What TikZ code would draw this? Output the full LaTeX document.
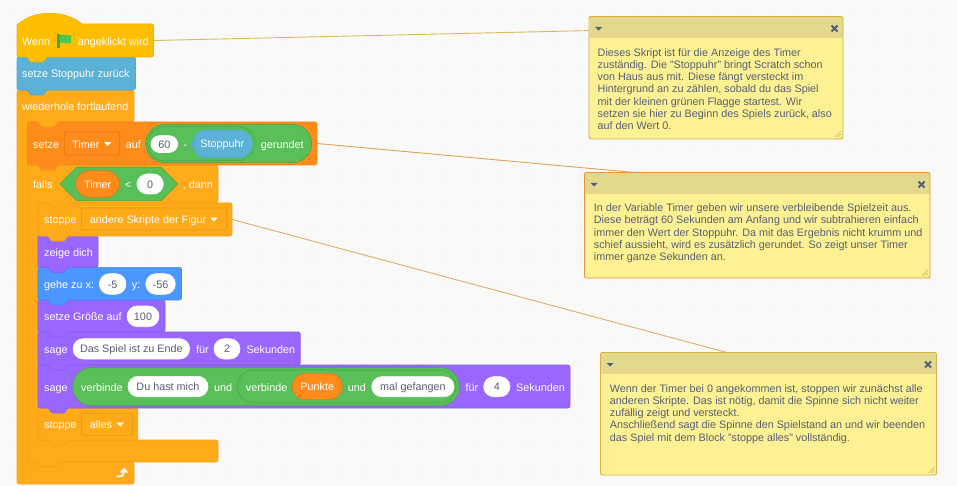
\documentclass[tikz,border=0pt]{standalone}
\usepackage{fontspec}
\setmainfont{Liberation Sans}
\pgfdeclarelayer{conn}
\pgfsetlayers{conn,main}
\definecolor{paper}{HTML}{F9F9F9}
\definecolor{griddot}{HTML}{ECECEC}
\definecolor{hatF}{HTML}{FFBF00}\definecolor{hatS}{HTML}{EFB000}
\definecolor{blueF}{HTML}{5CB1D6}\definecolor{blueS}{HTML}{4FA9D0}
\definecolor{ctrlF}{HTML}{FFAB19}\definecolor{ctrlS}{HTML}{F2A216}
\definecolor{varF}{HTML}{FF8C1A}\definecolor{varS}{HTML}{F5851A}
\definecolor{lookF}{HTML}{9966FF}\definecolor{lookS}{HTML}{8A5CE6}
\definecolor{motF}{HTML}{4C97FF}\definecolor{motS}{HTML}{4488E6}
\definecolor{opF}{HTML}{59C059}\definecolor{opS}{HTML}{46A546}
\definecolor{inkgrey}{HTML}{575E75}
\definecolor{noteF}{HTML}{FEF193}\definecolor{noteH}{HTML}{E2D98D}
\definecolor{noteA}{HTML}{D9AE35}\definecolor{noteB}{HTML}{E6953C}\definecolor{noteC}{HTML}{D9B045}
\definecolor{lineA}{HTML}{DDB95A}\definecolor{lineB}{HTML}{E6A050}\definecolor{lineC}{HTML}{E0B060}
\definecolor{gripc}{HTML}{BDB27A}
\tikzset{
  x=1pt,y=-1pt,
  blockbox/.style={rectangle,rounded corners=2pt,inner sep=0pt,line width=.6pt},
  ghostbox/.style={rectangle,inner sep=0pt},
  lbl/.style={inner sep=0pt,text=white,font=\fontsize{10.8pt}{12pt}\selectfont},
  pillnode/.style={rectangle,inner sep=0pt,line width=.6pt,text height=10pt,text depth=1.8pt,font=\fontsize{10.8pt}{12pt}\selectfont},
  notetext/.style={anchor=north west,inner sep=0pt,align=left,text=inkgrey,font=\fontsize{10.8pt}{12.2pt}\selectfont},
  connector/.style={line width=.9pt},
}
\newcommand\bBlk[7]{\node[blockbox,draw=#7,fill=#6,minimum width={(#4-#2)*1pt},minimum height={(#5-#3)*1pt}] (#1) at ({(#2+#4)/2},{(#3+#5)/2}) {};}
\newcommand\bGhost[5]{\node[ghostbox,minimum width={(#4-#2)*1pt},minimum height={(#5-#3)*1pt}] (#1) at ({(#2+#4)/2},{(#3+#5)/2}) {};}
\newcommand\bBump[4]{%
  \fill[#3] (#1,{#2-1}) -- (#1,#2) -- ({#1+4},{#2+5}) -- ({#1+16},{#2+5}) -- ({#1+20},#2) -- ({#1+20},{#2-1}) -- cycle;
  \draw[#4,line width=.6pt] (#1,#2) -- ({#1+4},{#2+5}) -- ({#1+16},{#2+5}) -- ({#1+20},#2);}
\newcommand\bTx[4]{\node[lbl,anchor=base west] (#1) at (#2,{#3+4.2}) {#4};}
\newcommand\bPill[9]{\node[pillnode,draw=#7,fill=#6,text=#8,rounded corners={(#5-#4)*.5pt},minimum width={(#3-#2)*1pt},minimum height={(#5-#4)*1pt}] (#1) at ({(#2+#3)/2},{(#4+#5)/2}) {#9};}
\newcommand\bTri[3]{\fill[#3] ({#1-3.5},{#2-1.8}) -- ({#1+3.5},{#2-1.8}) -- (#1,{#2+2}) -- cycle;}
\newcommand\notebox[6]{%
  \node[rectangle,inner sep=0pt,fill=noteF,rounded corners=2pt,minimum width={(#4-#2)*1pt},minimum height={(#5-#3)*1pt}] (#1) at ({(#2+#4)/2},{(#3+#5)/2}) {};
  \node[rectangle,inner sep=0pt,fill=noteH,minimum width={(#4-#2-1)*1pt},minimum height=21.5pt] (#1h) at ({(#2+#4)/2},{#3+11.2}) {};
  \draw[#6,line width=.9pt,rounded corners=2pt] (#2,#3) rectangle (#4,#5);
  \fill[inkgrey] ({#2+6},{#3+10.5}) -- ({#2+13},{#3+10.5}) -- ({#2+9.5},{#3+14}) -- cycle;
  \draw[inkgrey,line width=1.9pt] ({#4-11.5},{#3+9}) -- ({#4-5.5},{#3+15}) ({#4-5.5},{#3+9}) -- ({#4-11.5},{#3+15});
  \draw[gripc,line width=.6pt] ({#4-2},{#5-8}) -- ({#4-8},{#5-2}) ({#4-2},{#5-5}) -- ({#4-5},{#5-2});}
\begin{document}
\begin{tikzpicture}
\useasboundingbox (0,0) rectangle (957,486);

% ---- C-shaped loop and the blocks, lowest in the stack first
\draw[fill=ctrlF,draw=ctrlS,line width=.6pt,rounded corners=2pt]
  (17,90) -- (134,90) -- (134,122) -- (28,122) -- (28,462) -- (134,462) -- (134,484) -- (17,484) -- cycle;
\bGhost{loop}{17}{90}{134}{122}
\draw[fill=ctrlF,draw=ctrlS,line width=.6pt,rounded corners=2pt]
  (28,165) -- (218,165) -- (218,203) -- (38,203) -- (38,440) -- (218,440) -- (218,462) -- (28,462) -- cycle;
\bGhost{ifblock}{28}{165}{218}{203}
\bBump{38}{462}{ctrlF}{ctrlS}

\bBlk{stopall}{38}{408}{137.7}{440.3}{ctrlF}{ctrlS}
\bBump{48}{440.3}{ctrlF}{ctrlS}
\bBlk{saytwo}{38}{365}{570}{408}{lookF}{lookS}
\bBump{48}{408}{lookF}{lookS}
\bBlk{sayone}{38}{332}{300.3}{365}{lookF}{lookS}
\bBump{48}{365}{lookF}{lookS}
\bBlk{size}{38}{300}{165}{332}{lookF}{lookS}
\bBump{48}{332}{lookF}{lookS}
\bBlk{goto}{38}{267.3}{181.5}{300}{motF}{motS}
\bBump{48}{300}{motF}{motS}
\bBlk{show}{38}{235}{98}{267.3}{lookF}{lookS}
\bBump{48}{267.3}{lookF}{lookS}
\bBlk{stopother}{38}{203}{232}{236}{ctrlF}{ctrlS}
\bBump{48}{236}{ctrlF}{ctrlS}
\bBump{48}{203}{ctrlF}{ctrlS}
\bBlk{settimer}{27.5}{122}{317}{165}{varF}{varS}
\bBump{38}{165}{varF}{varS}
\bBump{38}{122}{ctrlF}{ctrlS}
\bBlk{reset}{17}{57}{135.5}{90}{blueF}{blueS}
\bBump{27}{90}{blueF}{blueS}
\draw[fill=hatF,draw=hatS,line width=.6pt]
  (17,25) .. controls (28,15.5) and (39,13.3) .. (50,13.3) .. controls (62,13.3) and (74,17) .. (82,24)
  -- (151.5,24) .. controls (153,24) and (153.5,24.5) .. (153.5,26) -- (153.5,55) .. controls (153.5,56.5) and (153,57) .. (151.5,57)
  -- (19,57) .. controls (17.5,57) and (17,56.5) .. (17,55) -- cycle;
\bGhost{hat}{17}{24}{153.5}{57}
\bBump{27}{57}{hatF}{hatS}

% ---- hat content
\bTx{tWenn}{22}{41}{Wenn}
\fill[opS] (57.3,34) rectangle (59.6,47.6);
\fill[opF!85!green] (59.6,35) .. controls (63,33) and (66,37) .. (71,35) -- (71,43) .. controls (66,45) and (63,41) .. (59.6,43) -- cycle;
\bTx{tClicked}{77.7}{41}{angeklickt wird}
\bTx{tReset}{22}{73.5}{setze Stoppuhr zurück}
\bTx{tLoop}{22}{106}{wiederhole fortlaufend}

% ---- set timer
\bTx{tSet}{33}{144}{setze}
\node[blockbox,draw=varS!90!black,fill=varF,minimum width=55.4pt,minimum height=23pt] (dTimerBox) at (92,143.5) {};
\bTx{tTimerA}{72}{144}{Timer}
\bTri{107.7}{144}{white}
\bTx{tAuf}{125.7}{144}{auf}
\bPill{gRound}{145.7}{311.7}{124.3}{162.7}{opF}{opS}{white}{}
\bPill{gMinus}{147.7}{255}{126.7}{160.7}{opF}{opS}{white}{}
\bPill{p60}{151}{177.7}{135.7}{152.5}{white}{white}{inkgrey}{60}
\bTx{tMinus}{183.5}{144}{-}
\bPill{pStopwatch}{192.3}{252.3}{130}{157.7}{blueF}{blueS}{white}{Stoppuhr}
\bTx{tRound}{260.7}{144}{gerundet}

% ---- if
\bTx{tIf}{33}{184}{falls}
\draw[fill=opF,draw=opS,line width=.6pt] (60,184) -- (76.7,167.3) -- (161,167.3) -- (177.7,184) -- (161,200.7) -- (76.7,200.7) -- cycle;
\bPill{pTimer}{76}{119.3}{170.7}{197.3}{varF}{varS!90!black}{white}{Timer}
\bTx{tLess}{125}{184}{<}
\bPill{p0}{137}{163.3}{174}{194}{white}{white}{inkgrey}{0}
\bTx{tThen}{182.7}{184}{, dann}

% ---- stop others
\bTx{tStopA}{44}{219.3}{stoppe}
\node[blockbox,draw=ctrlS!92!black,fill=ctrlF,minimum width=145.4pt,minimum height=22pt] (dOther) at (154,219) {};
\bTx{tOther}{89.7}{219.3}{andere Skripte der Figur}
\bTri{214}{219.5}{white}

% ---- looks and motion
\bTx{tShow}{44}{252}{zeige dich}
\bTx{tGoto}{44}{284}{gehe zu x:}
\bPill{pX}{99.3}{126}{273.7}{294.3}{white}{white}{inkgrey}{-5}
\bTx{tY}{131.7}{284}{y:}
\bPill{pY}{145.7}{175.3}{273.7}{294.3}{white}{white}{inkgrey}{-56}
\bTx{tSize}{44}{316}{setze Größe auf}
\bPill{pSize}{127}{159}{306}{326.7}{white}{white}{inkgrey}{100}
\bTx{tSayA}{44}{349}{sage}
\bPill{pEnd}{73}{189.7}{338.7}{359}{white}{white}{inkgrey}{Das Spiel ist zu Ende}
\bTx{tForA}{196}{349}{für}
\bPill{pTwo}{214}{240}{338.7}{359}{white}{white}{inkgrey}{2}
\bTx{tSecA}{246.3}{349}{Sekunden}

% ---- say joined
\bTx{tSayB}{44}{387}{sage}
\bPill{gJoinA}{72.7}{459.3}{367.7}{405.7}{opF}{opS}{white}{}
\bPill{gJoinB}{237.3}{456}{370}{403}{opF}{opS}{white}{}
\bTx{tJoinA}{81}{387}{verbinde}
\bPill{pHave}{128}{208}{376.3}{396.7}{white}{white}{inkgrey}{Du hast mich}
\bTx{tAndA}{214}{387}{und}
\bTx{tJoinB}{245.7}{387}{verbinde}
\bPill{pPoints}{292.3}{342.3}{373.3}{399.7}{varF}{varS!90!black}{white}{Punkte}
\bTx{tAndB}{347.7}{387}{und}
\bPill{pCaught}{371.7}{454}{376.7}{396.7}{white}{white}{inkgrey}{mal gefangen}
\bTx{tForB}{465.3}{387}{für}
\bPill{pFour}{483.7}{510}{376.7}{396.7}{white}{white}{inkgrey}{4}
\bTx{tSecB}{516}{387}{Sekunden}

% ---- stop all
\bTx{tStopB}{44}{424}{stoppe}
\node[blockbox,draw=ctrlS!92!black,fill=ctrlF,minimum width=51.4pt,minimum height=22pt] (dAll) at (107,424.3) {};
\bTx{tAll}{89.7}{424}{alles}
\bTri{120.3}{424.5}{white}

% ---- loop arrow
\draw[white,line width=1.7pt] (116.5,476.5) .. controls (121,477) and (123.5,476) .. (123.5,472);
\fill[white] (119.8,472.5) -- (124.3,467.5) -- (128,472.5) -- cycle;

% ---- comments
\notebox{nA}{589}{16.5}{843}{139}{noteA}
\node[notetext] (nAt) at (597.5,48.2) {Dieses Skript ist für die Anzeige des Timer\\zuständig. Die "Stoppuhr" bringt Scratch schon\\von Haus aus mit. Diese fängt versteckt im\\Hintergrund an zu zählen, sobald du das Spiel\\mit der kleinen grünen Flagge startest. Wir\\setzen sie hier zu Beginn des Spiels zurück, also\\auf den Wert 0.};
\notebox{nB}{584.5}{172.5}{930}{278}{noteB}
\node[notetext] (nBt) at (593.7,203.7) {In der Variable Timer geben wir unsere verbleibende Spielzeit aus.\\Diese beträgt 60 Sekunden am Anfang und wir subtrahieren einfach\\immer den Wert der Stoppuhr. Da mit das Ergebnis nicht krumm und\\schief aussieht, wird es zusätzlich gerundet. So zeigt unser Timer\\immer ganze Sekunden an.};
\notebox{nC}{600.5}{352.5}{936.5}{475}{noteC}
\node[notetext] (nCt) at (609.7,384.3) {Wenn der Timer bei 0 angekommen ist, stoppen wir zunächst alle\\anderen Skripte. Das ist nötig, damit die Spinne sich nicht weiter\\zufällig zeigt und versteckt.\\Anschließend sagt die Spinne den Spielstand an und wir beenden\\das Spiel mit dem Block "stoppe alles" vollständig.};

% ---- paper, dot grid and connectors go underneath
\begin{pgfonlayer}{conn}
\fill[paper] (0,0) rectangle (957,486);
\foreach \i in {0,...,35}{\foreach \j in {0,...,17}{\fill[griddot] ({15+27*\i},{13.5+27*\j}) circle (.9);}}
\draw[connector,lineA] (hat.east) -- (nAh.center);
\draw[connector,lineB] (settimer.east) -- (nBh.center);
\draw[connector,lineC] (stopother.east) -- (nCh.center);
\end{pgfonlayer}
\end{tikzpicture}
\end{document}
